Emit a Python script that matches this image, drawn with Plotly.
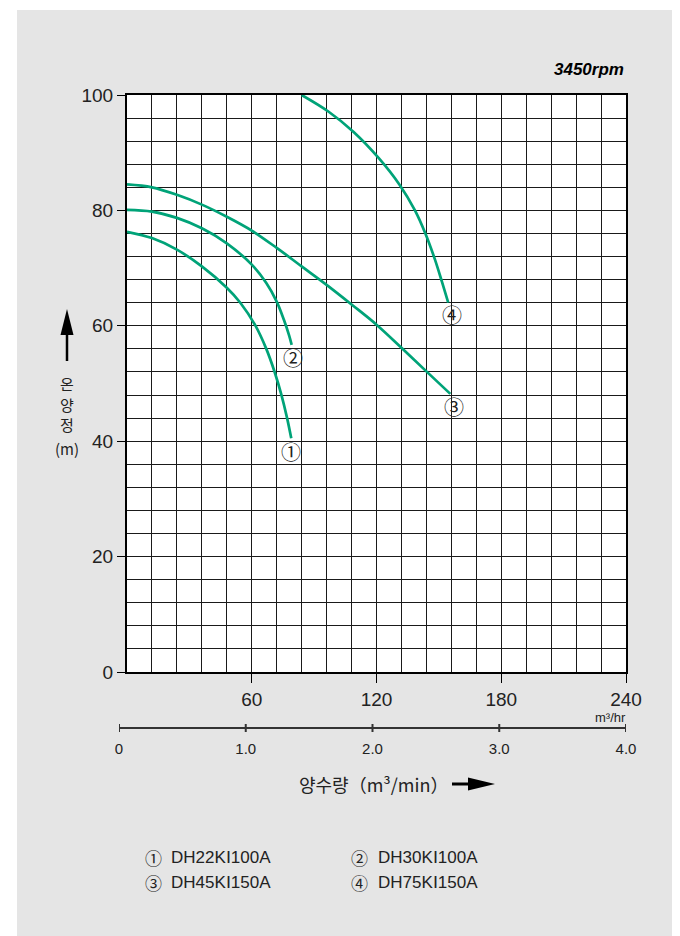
import plotly.graph_objects as go

# ---------------- data ----------------
flow_1 = [0, 12, 24, 36, 48, 54.5, 61.5, 67, 71, 74.3, 77, 79]
head_1 = [76.3, 75.2, 73.2, 70.3, 66.6, 64.0, 60.2, 56.0, 52.0, 48.0, 44.0, 40.5]

flow_2 = [0, 12, 24, 36, 48, 60, 67, 72, 75.5, 78, 79.2]
head_2 = [80.1, 79.8, 78.7, 76.9, 74.3, 70.6, 67.4, 64.2, 61.0, 58.3, 56.7]

flow_3 = [0, 12, 24, 36, 48, 60, 72, 84, 96, 108, 120, 132, 144, 155.5]
head_3 = [84.5, 84.0, 82.7, 81.0, 78.9, 76.5, 73.5, 70.3, 67.1, 63.7, 60.2, 56.2, 52.1, 48.2]

flow_4 = [84, 97, 109, 121, 131, 138.5, 143.5, 148, 151.5, 154.5]
head_4 = [100, 97.1, 93.6, 89.1, 84.5, 80.0, 76.0, 71.6, 67.6, 64.0]

curve_marks = ["①", "②", "③", "④"]
mark_x = [79.0, 79.8, 157.1, 156.5]
mark_y = [38.2, 54.5, 46.0, 61.9]

model_names = ["DH22KⅠ100A", "DH30KⅠ100A", "DH45KⅠ150A", "DH75KⅠ150A"]

x_tick_vals = [60, 120, 180, 240]
y_tick_vals = [0, 20, 40, 60, 80, 100]
min_tick_vals = [0, 1, 2, 3, 4]
min_tick_text = ["0", "1.0", "2.0", "3.0", "4.0"]

y_title_parts = ["온", "양", "정", "(m)"]

# ---------------- layout helpers ----------------
W, H = 680, 936
ML, MR, MT, MB = 111, 62, 87, 146
PW, PH = W - ML - MR, H - MT - MB


def px(X):
    return (X - ML) / PW


def py(Y):
    return (H - MB - Y) / PH


GREEN = "#00A378"
INK = "#222222"
LAT = "Liberation Sans, Arial, sans-serif"
KR = "Noto Sans CJK KR, sans-serif"

fig = go.Figure()
for fx, hy in [(flow_1, head_1), (flow_2, head_2), (flow_3, head_3), (flow_4, head_4)]:
    fig.add_trace(go.Scatter(x=fx, y=hy, mode="lines",
                             line=dict(color=GREEN, width=2.7, shape="spline", smoothing=1.0),
                             hoverinfo="skip", xaxis="x", yaxis="y"))

# secondary (m3/min) scale line
fig.add_trace(go.Scatter(x=min_tick_vals, y=[0] * len(min_tick_vals), mode="lines+markers",
                         line=dict(color="#333333", width=2),
                         marker=dict(symbol="line-ns", size=9, line=dict(color="#333333", width=2)),
                         hoverinfo="skip", xaxis="x2", yaxis="y2"))

grid_col = "#1a1a1a"
fig.update_layout(
    template="none",
    width=W, height=H,
    margin=dict(l=ML, r=MR, t=MT, b=MB, pad=0),
    paper_bgcolor="white",
    plot_bgcolor="rgba(0,0,0,0)",
    showlegend=False,
    xaxis=dict(domain=[px(119), 1], range=[0, 240], tickvals=x_tick_vals,
               ticks="outside", ticklen=9, tickwidth=1, tickcolor="black",
               showgrid=True, gridcolor=grid_col, gridwidth=1,
               minor=dict(tick0=0, dtick=12, showgrid=True, gridcolor=grid_col, gridwidth=1, ticks=""),
               showline=True, mirror=True, linecolor="black", linewidth=2,
               zeroline=False, automargin=False, anchor="y",
               tickfont=dict(family=LAT, size=19, color=INK)),
    yaxis=dict(domain=[py(664), 1], range=[0, 100], tickvals=y_tick_vals,
               ticks="outside", ticklen=8, tickwidth=1, tickcolor="black",
               showgrid=True, gridcolor=grid_col, gridwidth=1,
               minor=dict(tick0=0, dtick=4, showgrid=True, gridcolor=grid_col, gridwidth=1, ticks=""),
               showline=True, mirror=True, linecolor="black", linewidth=2,
               zeroline=False, automargin=False, anchor="x",
               tickfont=dict(family=LAT, size=19, color=INK)),
    xaxis2=dict(domain=[0, 1], range=[0, 4], anchor="y2", tickvals=min_tick_vals,
                ticktext=min_tick_text, ticks="outside", ticklen=3,
                tickcolor="rgba(0,0,0,0)", showgrid=False, showline=False,
                zeroline=False, automargin=False,
                tickfont=dict(family=LAT, size=15, color=INK)),
    yaxis2=dict(domain=[py(724), py(716)], range=[-1, 1], anchor="x2", visible=False),
)

shapes = [
    dict(type="rect", xref="paper", yref="paper", x0=px(9), x1=px(675), y0=py(936), y1=py(2),
         fillcolor="#e5e5e5", line=dict(width=0), layer="below"),
    dict(type="rect", xref="paper", yref="paper", x0=px(119), x1=1, y0=py(664), y1=1,
         fillcolor="white", line=dict(width=0), layer="below"),
    # y title arrow
    dict(type="line", xref="paper", yref="paper", x0=px(59), x1=px(59), y0=py(353), y1=py(325),
         line=dict(color="black", width=2.5)),
    dict(type="path", xref="paper", yref="paper",
         path=f"M {px(52.5)},{py(327)} L {px(65.5)},{py(327)} L {px(59)},{py(301)} Z",
         fillcolor="black", line=dict(width=0)),
    # x title arrow
    dict(type="line", xref="paper", yref="paper", x0=px(444), x1=px(462), y0=py(776), y1=py(776),
         line=dict(color="black", width=3)),
    dict(type="path", xref="paper", yref="paper",
         path=f"M {px(460)},{py(769.5)} L {px(460)},{py(782.5)} L {px(487)},{py(776)} Z",
         fillcolor="black", line=dict(width=0)),
]
fig.update_layout(shapes=shapes)

ann = []
ann.append(dict(text="<b><i>3450rpm</i></b>", xref="paper", yref="paper", x=px(618), y=py(62),
                xanchor="right", yanchor="middle", showarrow=False,
                font=dict(family=LAT, size=17, color="black")))
for part, yy in zip(y_title_parts, [375, 396, 417, 440]):
    ann.append(dict(text=part, xref="paper", yref="paper", x=px(59), y=py(yy),
                    xanchor="center", yanchor="middle", showarrow=False, borderpad=0,
                    font=dict(family=KR, size=15, color=INK)))
ann.append(dict(text="양수량（m³/min）", xref="paper", yref="paper", x=px(442), y=py(776),
                xanchor="right", yanchor="middle", showarrow=False,
                font=dict(family=KR, size=18, color=INK)))
ann.append(dict(text="m³/hr", xref="paper", yref="paper", x=px(619), y=py(709),
                xanchor="right", yanchor="middle", showarrow=False, borderpad=0,
                font=dict(family=LAT, size=13, color=INK)))

for m, mx, my in zip(curve_marks, mark_x, mark_y):
    ann.append(dict(text=m, xref="x", yref="y", x=mx, y=my, xanchor="center", yanchor="middle",
                    showarrow=False, font=dict(family=KR, size=20, color=INK)))

leg_cx = [145.5, 351.5, 145.5, 351.5]
leg_tx = [162, 369, 162, 369]
leg_y = [850, 850, 874, 874]
for m, name, cx, tx, yy in zip(curve_marks, model_names, leg_cx, leg_tx, leg_y):
    ann.append(dict(text=m, xref="paper", yref="paper", x=px(cx), y=py(yy), xanchor="center",
                    yanchor="middle", showarrow=False, borderpad=0,
                    font=dict(family=KR, size=17, color=INK)))
    ann.append(dict(text=name, xref="paper", yref="paper", x=px(tx), y=py(yy), xanchor="left",
                    yanchor="middle", showarrow=False, borderpad=0,
                    font=dict(family=LAT, size=17, color=INK)))

fig.update_layout(annotations=ann)

fig.write_html("out.html")
